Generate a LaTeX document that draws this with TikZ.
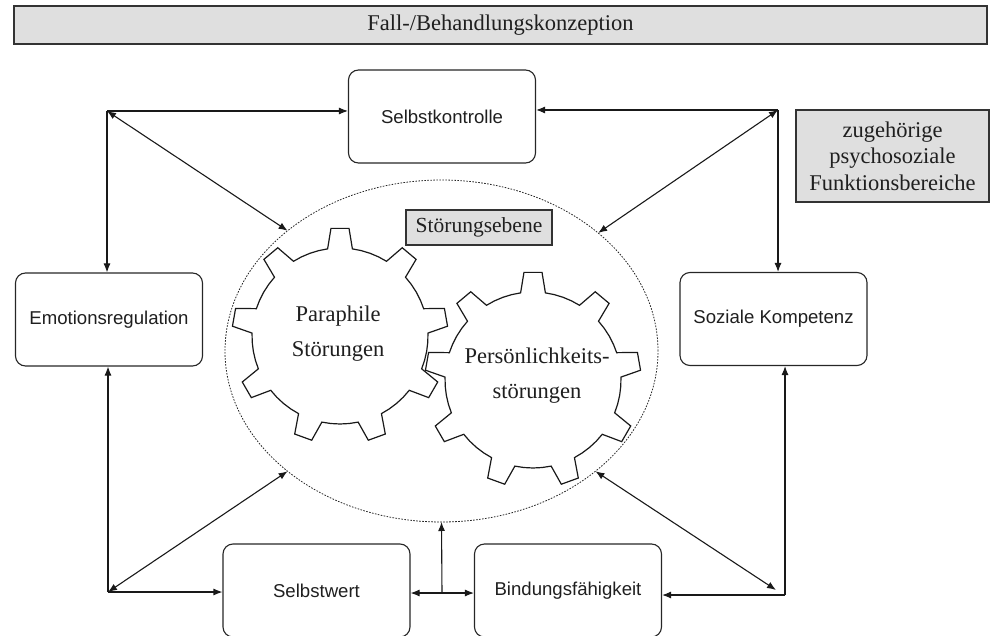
\documentclass[tikz,border=0pt]{standalone}
\usepackage{fontspec}
\setmainfont{Liberation Serif}
\setsansfont{Liberation Sans}
\usetikzlibrary{arrows.meta,shapes.geometric}
\newcommand\mygear[1]{%
  \draw[gearline, shift={#1}] (261.9:88)
  \foreach \k [evaluate=\k as \a using 270+40*\k] in {0,...,8} {
    -- (\a-4.8:108) -- (\a+4.8:108) -- (\a+8.1:88) -- (\a+14:88)
    -- (\a+20:88) -- (\a+26:88) -- (\a+31.9:88)
  } -- cycle;
}
\begin{document}
\begin{tikzpicture}[x=1pt,y=-1pt,
  box/.style={draw=black!85, line width=1.1pt, rounded corners=10pt,
    minimum width=187pt, minimum height=93pt, inner sep=0pt,
    font=\sffamily\fontsize{18.6}{22}\selectfont, text=black!88},
  graybox/.style={draw=black!80, line width=1.1pt, fill=gray!25, inner sep=0pt,
    font=\fontsize{22.5}{26.5}\selectfont, align=center, text=black!88},
  geartext/.style={font=\fontsize{22.5}{35}\selectfont, align=center, text=black!88, inner sep=0pt},
  gearline/.style={draw=black!90, line width=1.2pt, fill=white, line join=miter},
  con/.style={line width=1.1pt, draw=black!90},
  arr/.style={-{Latex[length=9pt,width=7pt]}},
  darr/.style={{Latex[length=9pt,width=7pt]}-{Latex[length=9pt,width=7pt]}}
]
\useasboundingbox (0,0) rectangle (990,636);

% banner
\node[graybox, minimum width=973pt, minimum height=38pt] (banner) at (500.5,25) {Fall-/Behandlungskonzeption};

% function boxes
\node[box] (selbstk) at (442,116.5) {Selbstkontrolle};
\node[box] (emo) at (109,319.5) {Emotionsregulation};
\node[box] (sozial) at (773.5,319) {Soziale Kompetenz};
\node[box] (selbstwert) at (316.5,590.5) {Selbstwert};
\node[box] (bindung) at (568,590.5) {Bindungsfähigkeit};
\node[graybox, minimum width=193pt, minimum height=92pt] (zug) at (892.5,156)
  {zugehörige\\psychosoziale\\Funktionsbereiche};

% disorder level ellipse
\node[ellipse, draw=black!85, line width=0.8pt, dash pattern=on 1.6pt off 1.4pt,
  minimum width=433pt, minimum height=342pt, inner sep=0pt, outer sep=0pt] (ebene) at (441.5,351) {};

% gears
\coordinate (g1) at (340,336);
\coordinate (g2) at (533,380);
\mygear{(g1)}
\mygear{(g2)}
\node[geartext] (t1) at (338,334) {Paraphile\\Störungen};
\node[geartext] (t2) at (537,375.5) {Persönlichkeits-\\störungen};

\node[graybox, minimum width=146pt, minimum height=35pt, font=\fontsize{21.5}{24}\selectfont] (stoer) at (479,227.5) {Störungsebene};

% connector corners
\coordinate (tl) at (107,111);
\coordinate (tr) at (778,110);
\coordinate (bl) at (108,592);
\coordinate (br) at (785,595);
\coordinate (brd) at (776,590);
\coordinate (mid) at (442,593);

\draw[con,arr] (tl) -- (tl -| selbstk.west);
\draw[con,arr] (tl) -- (tl |- emo.north);
\draw[con,darr] (tl) -- (ebene.142);
\draw[con,arr] (tr) -- (tr -| selbstk.east);
\draw[con,arr] (tr) -- (tr |- sozial.north);
\draw[con,darr] (tr) -- (ebene.37);
\draw[con,arr] (bl) -- (bl |- emo.south);
\draw[con,arr] (bl) -- (bl -| selbstwert.west);
\draw[con,darr] (bl) -- (ebene.218);
\draw[con,arr] (br) -- (br |- sozial.south);
\draw[con,arr] (br) -- (br -| bindung.east);
\draw[con,darr] (brd) -- (ebene.322);
\draw[con,darr] (mid -| selbstwert.east) -- (mid -| bindung.west);
\draw[con,arr] (mid) -- (ebene.south);
\end{tikzpicture}
\end{document}
